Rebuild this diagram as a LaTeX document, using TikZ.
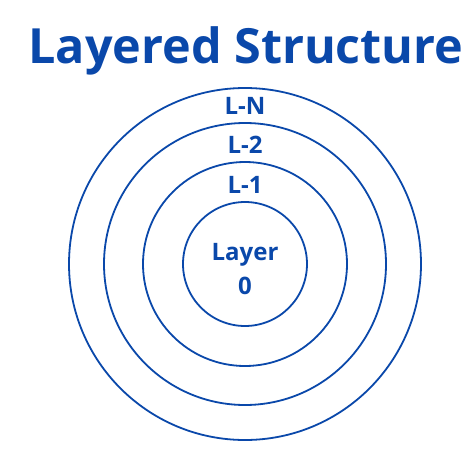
\documentclass[tikz,border=0pt]{standalone}
\usepackage{fontspec}
\setmainfont{Open Sans}
\definecolor{lblue}{RGB}{10,72,170}
\begin{document}
\begin{tikzpicture}[x=1pt,y=-1pt,
  ring/.style={circle, draw=lblue, line width=1.8pt, inner sep=0pt},
  lbl/.style={text=lblue, font=\bfseries\fontsize{24}{34}\selectfont, anchor=base, inner sep=0pt, align=center}]
\useasboundingbox[fill=white] (0,0) rectangle (474,474);
\node[text=lblue, font=\bfseries\fontsize{48.5}{50}\selectfont, anchor=base, inner sep=0pt] (title) at (246,63) {Layered Structure};
\node[ring, minimum size=352pt] (r3) at (245,264) {};
\node[ring, minimum size=282pt] (r2) at (245,264) {};
\node[ring, minimum size=204pt] (r1) at (245,264) {};
\node[ring, minimum size=124pt] (r0) at (245,264) {};
\node[lbl] (ln) at (245,114) {L-N};
\node[lbl] (l2) at (245,153) {L-2};
\node[lbl] (l1) at (245,193) {L-1};
\node[lbl] (l0a) at (245,260) {Layer};
\node[lbl] (l0b) at (245,294) {0};
\end{tikzpicture}
\end{document}
